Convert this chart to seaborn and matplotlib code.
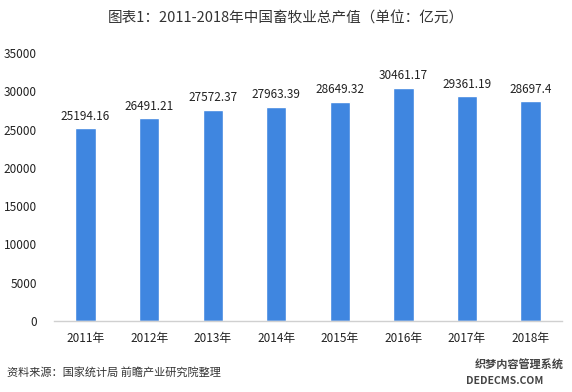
import numpy as np
import pandas as pd
import seaborn as sns
import matplotlib
matplotlib.use('Agg')
import matplotlib.pyplot as plt

years = ['2011年', '2012年', '2013年', '2014年', '2015年', '2016年', '2017年', '2018年']
output_value = [25194.16, 26491.21, 27572.37, 27963.39, 28649.32, 30461.17, 29361.19, 28697.4]
value_labels = ['25194.16', '26491.21', '27572.37', '27963.39', '28649.32', '30461.17', '29361.19', '28697.4']
y_ticks = [0, 5000, 10000, 15000, 20000, 25000, 30000, 35000]

sns.set_theme(style='white')
plt.rcParams['font.family'] = ['Noto Sans CJK SC', 'DejaVu Sans']

df = pd.DataFrame({'year': years, 'value': output_value})

fig = plt.figure(figsize=(5.72, 3.92), dpi=100)
ax = fig.add_axes([0.094, 0.181, 0.889, 0.684])

sns.barplot(data=df, x='year', y='value', color='#3F86E0', saturation=1,
            width=0.32, ax=ax)

for i, (v, lab) in enumerate(zip(output_value, value_labels)):
    ax.text(i, v + 700, lab, ha='center', va='bottom', fontsize=8.5, color='#222222')

ax.set_ylim(0, 35000)
ax.set_yticks(y_ticks)
ax.set_yticklabels([str(t) for t in y_ticks])
ax.set_xlim(-0.5, len(years) - 0.5)
ax.set_xlabel('')
ax.set_ylabel('')
ax.tick_params(axis='both', labelsize=8.5, colors='#222222', length=0)
ax.tick_params(axis='y', pad=12)
ax.tick_params(axis='x', pad=8)
for s in ['top', 'right', 'left']:
    ax.spines[s].set_visible(False)
ax.spines['bottom'].set_color('#D0D0D0')
ax.spines['bottom'].set_linewidth(1)

fig.text(0.5, 0.952, '图表1：2011-2018年中国畜牧业总产值（单位：亿元）',
         ha='center', va='center', fontsize=10.5, color='#333333')
fig.text(0.012, 0.05, '资料来源：国家统计局 前瞻产业研究院整理',
         ha='left', va='center', fontsize=8, color='#333333', style='italic')
fig.text(0.83, 0.068, '织梦内容管理系统', ha='left', va='center',
         fontsize=8, color='#444444', weight='bold')
fig.text(0.815, 0.028, 'DEDECMS.COM', ha='left', va='center',
         fontsize=7.5, color='#444444', weight='bold')

fig.savefig('out.png', dpi=100)
